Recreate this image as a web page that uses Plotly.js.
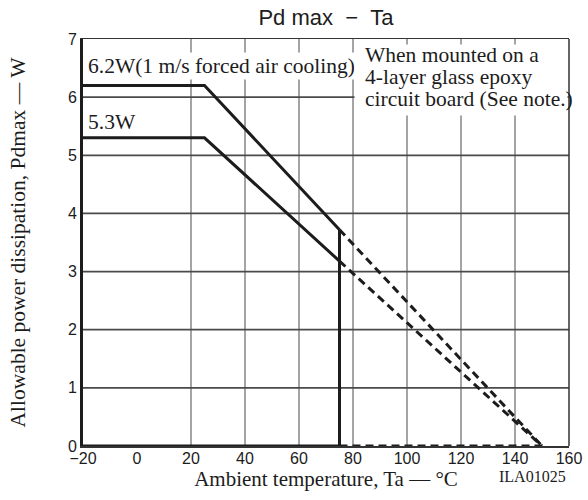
<!DOCTYPE html>
<html>
<head>
<meta charset="utf-8">
<script src="https://cdn.plot.ly/plotly-3.0.1.min.js"></script>
<style>html,body{margin:0;padding:0;background:#fff;}#chart{width:588px;height:500px;}</style>
</head>
<body>
<div id="chart"></div>
<script>
// ---- data ----
var xTicks = [-20, 0, 20, 40, 60, 80, 100, 120, 140, 160];
var xGrid = [20, 40, 60, 80, 100, 120, 140];
var yTicks = [0, 1, 2, 3, 4, 5, 6, 7];
var yGrid = [1, 2, 3, 4, 5, 6];

var ta62Solid = [-20, 25, 75];
var pd62Solid = [6.2, 6.2, 3.72];
var ta62Dash = [75, 150];
var pd62Dash = [3.72, 0];

var ta53Solid = [-20, 25, 75];
var pd53Solid = [5.3, 5.3, 3.18];
var ta53Dash = [75, 150];
var pd53Dash = [3.18, 0];

var taCutoff = [75, 75];
var pdCutoff = [0, 3.72];

var taBaseSolid = [-20, 75];
var pdBaseSolid = [0, 0];
var taBaseDash = [75, 150];
var pdBaseDash = [0, 0];

var label62 = '6.2W(1 m/s forced air cooling)';
var label53 = '5.3W';
var noteLines = ['When mounted on a', '4-layer glass epoxy', 'circuit board (See note.)'];

// ---- styles ----
var ink = '#1c1c1c';
var gridCol = '#4a4a4a';
var serif = 'Liberation Serif, Times New Roman, serif';
var sans = 'Liberation Sans, Arial, sans-serif';
function solid(x, y) {
  return {x: x, y: y, type: 'scatter', mode: 'lines', line: {color: ink, width: 3}, hoverinfo: 'skip', showlegend: false};
}
function dashed(x, y) {
  return {x: x, y: y, type: 'scatter', mode: 'lines', line: {color: ink, width: 3, dash: '8px,5px'}, hoverinfo: 'skip', showlegend: false};
}

var data = [
  solid(ta62Solid, pd62Solid),
  dashed(ta62Dash, pd62Dash),
  solid(ta53Solid, pd53Solid),
  dashed(ta53Dash, pd53Dash),
  solid(taCutoff, pdCutoff),
  solid(taBaseSolid, pdBaseSolid),
  dashed(taBaseDash, pdBaseDash)
];

var xMin = xTicks[0], xMax = xTicks[xTicks.length - 1];
var yMin = yTicks[0], yMax = yTicks[yTicks.length - 1];

// grid lines (the reference has no vertical line at 0)
var shapes = xGrid.map(function (v) {
  return {type: 'line', xref: 'x', yref: 'y', x0: v, x1: v, y0: yMin, y1: yMax,
          line: {color: gridCol, width: 1}, layer: 'below'};
}).concat(yGrid.map(function (v) {
  return {type: 'line', xref: 'x', yref: 'y', x0: xMin, x1: xMax, y0: v, y1: v,
          line: {color: gridCol, width: 1.8}, layer: 'below'};
}));
// thin right frame edge
shapes.push({type: 'line', xref: 'paper', yref: 'paper', x0: 1, x1: 1, y0: 0, y1: 1,
             line: {color: '#333', width: 1.5}, layer: 'above'});

var annotations = [
  {x: -18.8, y: 6.54, xref: 'x', yref: 'y', xanchor: 'left', yanchor: 'middle', text: label62, showarrow: false,
   font: {family: serif, size: 21.5, color: ink}, bgcolor: '#fff', borderpad: 1},
  {x: -18.8, y: 5.58, xref: 'x', yref: 'y', xanchor: 'left', yanchor: 'middle', text: label53, showarrow: false,
   font: {family: serif, size: 21.5, color: ink}, bgcolor: '#fff', borderpad: 1},
  // white backing for the note block
  {x: 80.5, y: 6.3, xref: 'x', yref: 'y', xanchor: 'left', yanchor: 'middle', text: '\u00a0', showarrow: false,
   width: 212, height: 70, bgcolor: '#fff', borderpad: 0, font: {family: serif, size: 10, color: '#fff'}}
];
var noteY = [6.725, 6.347, 5.968];
for (var i = 0; i < noteLines.length; i++) {
  annotations.push({x: 83.8, y: noteY[i], xref: 'x', yref: 'y', xanchor: 'left', yanchor: 'middle',
    text: noteLines[i], showarrow: false, font: {family: serif, size: 21.5, color: ink}, borderpad: 1});
}
annotations.push({x: 0.998, y: -0.074, xref: 'paper', yref: 'paper', xanchor: 'right', yanchor: 'middle',
  text: 'ILA01025', showarrow: false, font: {family: serif, size: 16, color: ink}});

var layout = {
  width: 588, height: 500,
  margin: {l: 83, r: 19, t: 39, b: 54},
  paper_bgcolor: '#fff', plot_bgcolor: 'rgba(0,0,0,0)',
  showlegend: false,
  title: {text: 'Pd max\u00a0\u00a0\u2212\u00a0\u00a0Ta', font: {family: sans, size: 22, color: ink},
          x: 0.5, xref: 'paper', xanchor: 'center', y: 0.966, yref: 'container', yanchor: 'middle'},
  xaxis: {range: [xMin, xMax], tickvals: xTicks, showgrid: false, zeroline: false,
          showline: true, mirror: true, linewidth: 1.5, linecolor: '#333', ticks: '',
          ticklabelstandoff: -3,
          tickfont: {family: sans, size: 16, color: ink},
          title: {text: 'Ambient temperature, Ta \u2014 \u00b0C', font: {family: serif, size: 21, color: ink}, standoff: 0}},
  yaxis: {range: [yMin, yMax], tickvals: yTicks, showgrid: false, zeroline: false,
          showline: true, linewidth: 3, linecolor: ink, ticks: '',
          tickfont: {family: sans, size: 16, color: ink},
          title: {text: 'Allowable power dissipation, Pdmax \u2014 W', font: {family: serif, size: 21.5, color: ink}, standoff: 37}},
  shapes: shapes,
  annotations: annotations
};

Plotly.newPlot('chart', data, layout, {staticPlot: true, displayModeBar: false});
</script>
</body>
</html>
